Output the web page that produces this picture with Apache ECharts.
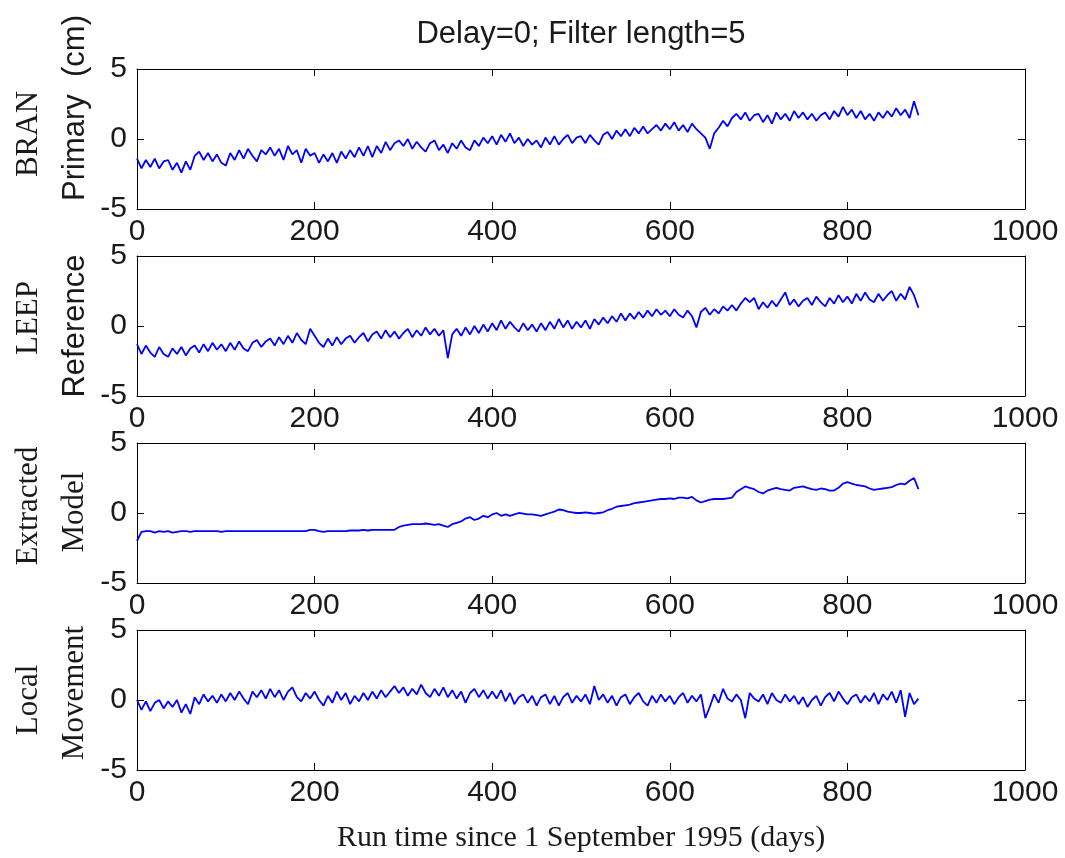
<!DOCTYPE html>
<html>
<head>
<meta charset="utf-8">
<script src="https://cdn.jsdelivr.net/npm/echarts@6/dist/echarts.min.js"></script>
<style>
html,body{margin:0;padding:0;background:#fff;}
#chart{width:1065px;height:858px;}
</style>
</head>
<body>
<div id="chart"></div>
<script>
// ---- data (days since 1 Sep 1995, displacement in cm) ----
const days = [
0,5,10,15,20,25,30,35,40,45,
50,55,60,65,70,75,80,85,90,95,
100,105,110,115,120,125,130,135,140,145,
150,155,160,165,170,175,180,185,190,195,
200,205,210,215,220,225,230,235,240,245,
250,255,260,265,270,275,280,285,290,295,
300,305,310,315,320,325,330,335,340,345,
350,355,360,365,370,375,380,385,390,395,
400,405,410,415,420,425,430,435,440,445,
450,455,460,465,470,475,480,485,490,495,
500,505,510,515,520,525,530,535,540,545,
550,555,560,565,570,575,580,585,590,595,
600,605,610,615,620,625,630,635,640,645,
650,655,660,665,670,675,680,685,690,695,
700,705,710,715,720,725,730,735,740,745,
750,755,760,765,770,775,780,785,790,795,
800,805,810,815,820,825,830,835,840,845,
850,855,860,865,870,875,880
];

const branPrimary = [
-1.4,-2.1,-1.5,-2.0,-1.4,-2.1,-1.6,-1.5,-2.2,-1.7,
-2.4,-1.6,-2.2,-1.2,-0.9,-1.5,-1.0,-1.6,-1.1,-1.7,
-1.9,-1.0,-1.5,-0.8,-1.4,-0.7,-1.2,-1.6,-0.8,-1.1,
-0.6,-1.2,-0.7,-1.5,-0.5,-1.1,-0.8,-1.7,-0.7,-1.2,
-1.0,-1.7,-1.1,-1.6,-1.0,-1.7,-0.9,-1.4,-0.8,-1.3,
-0.6,-1.2,-0.5,-1.3,-0.5,-1.0,-0.2,-0.8,-0.3,-0.1,
-0.5,0.0,-0.7,-0.2,-0.6,-0.9,-0.3,-0.1,-0.8,-0.4,
-1.0,-0.3,-0.7,-0.1,-0.6,-0.8,-0.1,-0.5,0.1,-0.3,
0.2,-0.4,0.3,-0.2,0.4,-0.3,0.1,-0.5,0.0,-0.4,
-0.1,-0.6,0.1,-0.4,0.2,-0.4,0.0,0.3,-0.3,0.1,
0.2,-0.3,0.3,-0.1,-0.4,0.3,0.5,0.0,0.6,0.2,
0.7,0.2,0.8,0.4,0.9,0.4,0.7,1.0,0.6,1.1,
0.7,1.2,0.6,1.0,0.5,1.1,0.7,0.4,0.1,-0.7,
0.4,0.8,1.3,0.9,1.5,1.8,1.4,1.9,1.3,1.7,
1.8,1.2,1.7,1.1,1.9,1.4,1.8,1.3,2.0,1.5,
1.9,1.4,1.8,1.3,1.7,1.9,1.4,2.0,1.6,2.3,
1.7,2.1,1.5,2.0,1.4,1.8,1.3,1.9,1.5,2.0,
1.6,2.2,1.7,2.1,1.5,2.7,1.7
];

const leepReference = [
-1.3,-2.0,-1.4,-1.9,-2.2,-1.5,-2.0,-2.2,-1.6,-2.0,
-1.5,-2.1,-1.6,-1.4,-1.9,-1.3,-1.8,-1.2,-1.7,-1.3,
-1.8,-1.2,-1.7,-1.1,-1.6,-1.8,-1.2,-1.0,-1.5,-1.1,
-0.9,-1.4,-0.8,-1.3,-0.7,-1.2,-0.5,-1.0,-1.3,-0.2,
-0.7,-1.2,-1.5,-0.9,-1.4,-0.8,-1.3,-0.9,-0.7,-1.2,
-0.8,-0.5,-1.1,-0.6,-0.4,-0.9,-0.3,-0.8,-0.4,-0.9,
-0.5,-0.2,-0.8,-0.3,-0.7,-0.1,-0.6,-0.2,-0.7,-0.3,
-2.3,-0.6,-0.2,-0.7,-0.1,-0.6,0.0,-0.5,0.1,-0.4,
0.2,-0.3,0.4,-0.2,0.3,-0.1,-0.4,0.2,-0.3,0.1,
-0.4,0.2,-0.3,0.3,-0.2,0.5,-0.1,0.4,-0.2,0.3,
-0.1,0.4,-0.2,0.5,0.1,0.6,0.2,0.7,0.3,0.9,
0.4,0.9,0.5,1.0,0.6,1.1,0.7,1.2,0.8,1.1,
0.7,1.2,0.8,0.6,1.1,0.7,-0.1,1.0,1.3,0.8,
1.2,0.9,1.4,1.1,1.5,1.1,1.6,2.0,1.7,2.0,
1.2,1.7,1.3,1.8,1.4,1.9,2.4,1.5,1.9,1.4,
1.8,2.0,1.5,2.1,1.7,1.4,2.0,1.6,2.2,1.7,
2.1,1.6,2.3,1.8,2.4,1.9,1.7,2.3,1.8,2.2,
2.5,1.8,2.3,1.9,2.8,2.2,1.3
];

const extractedModel = [
-2.0,-1.35,-1.3,-1.3,-1.4,-1.3,-1.35,-1.3,-1.4,-1.35,
-1.3,-1.3,-1.35,-1.3,-1.3,-1.3,-1.3,-1.3,-1.3,-1.35,
-1.3,-1.3,-1.3,-1.3,-1.3,-1.3,-1.3,-1.3,-1.3,-1.3,
-1.3,-1.3,-1.3,-1.3,-1.3,-1.3,-1.3,-1.3,-1.3,-1.2,
-1.2,-1.3,-1.35,-1.3,-1.3,-1.3,-1.3,-1.3,-1.25,-1.25,
-1.25,-1.2,-1.25,-1.2,-1.2,-1.2,-1.2,-1.2,-1.2,-1.0,
-0.9,-0.85,-0.8,-0.8,-0.8,-0.75,-0.8,-0.85,-0.8,-0.9,
-1.0,-0.8,-0.7,-0.6,-0.4,-0.3,-0.5,-0.4,-0.2,-0.3,
-0.1,0.0,-0.2,-0.1,-0.2,-0.1,0.0,-0.05,-0.1,-0.1,
-0.15,-0.2,-0.1,0.0,0.1,0.25,0.2,0.1,0.05,0.0,
0.0,0.05,0.0,-0.05,0.0,0.05,0.2,0.3,0.45,0.5,
0.55,0.6,0.7,0.75,0.8,0.85,0.9,0.95,1.0,1.0,
1.05,1.0,1.1,1.1,1.05,1.15,0.9,0.75,0.85,0.95,
1.0,1.0,1.0,1.05,1.1,1.5,1.7,1.9,1.8,1.7,
1.5,1.4,1.6,1.7,1.8,1.7,1.65,1.6,1.8,1.85,
1.9,1.8,1.7,1.65,1.75,1.7,1.6,1.6,1.8,2.1,
2.2,2.1,2.0,1.95,1.9,1.75,1.65,1.7,1.75,1.8,
1.85,2.0,2.1,2.05,2.3,2.5,1.7
];

const localMovement = [
0.0,-0.7,-0.1,-0.8,-0.2,0.0,-0.6,-0.1,-0.5,0.0,
-0.9,-0.3,-1.0,0.2,-0.3,0.4,-0.1,0.3,-0.2,0.4,
-0.1,0.5,0.0,0.6,0.1,-0.3,0.6,0.2,0.7,0.1,
0.8,0.2,0.7,0.0,0.6,0.9,0.2,-0.1,0.5,0.1,
0.6,0.0,-0.4,0.3,-0.2,0.6,0.0,0.5,-0.3,0.3,
-0.1,0.5,0.0,0.6,0.1,0.7,0.2,0.6,1.0,0.5,
0.9,0.3,0.8,0.4,1.1,0.5,0.2,0.8,0.3,0.9,
0.2,0.7,0.1,0.6,-0.2,0.5,0.8,0.2,0.7,0.1,
0.6,0.1,0.7,-0.1,0.5,-0.3,0.2,0.4,-0.2,0.3,
-0.4,0.2,0.4,-0.3,0.3,-0.4,0.2,0.5,-0.2,0.3,
-0.1,0.4,-0.3,1.0,0.0,0.4,-0.2,0.3,-0.4,0.2,
0.4,-0.3,0.2,0.5,-0.1,-0.4,0.3,-0.2,0.4,-0.1,
0.3,-0.3,0.2,0.5,-0.2,0.3,-0.1,0.4,-1.3,-0.5,
0.4,-0.2,0.8,0.1,-0.1,0.4,0.0,-1.3,0.5,0.1,
-0.1,0.4,-0.3,0.5,0.0,-0.2,0.4,-0.1,0.3,-0.3,
0.2,-0.5,0.0,0.3,-0.4,0.2,0.5,-0.1,0.6,0.1,
-0.3,0.2,0.4,-0.2,0.3,-0.1,0.5,-0.3,0.4,0.0,
0.6,-0.2,0.7,-1.2,0.5,-0.3,0.1
];

const seriesList = [branPrimary, leepReference, extractedModel, localMovement];
const panelLabels = [["BRAN", "Primary  (cm)"], ["LEEP", "Reference"], ["Extracted", "Model"], ["Local", "Movement"]];
const titleText = "Delay=0; Filter length=5";
const xAxisTitle = "Run time since 1 September 1995 (days)";
const xRange = {min: 0, max: 1000, interval: 200};
const yRange = {min: -5, max: 5, interval: 5};

// ---- layout / style ----
const SANS = "'Liberation Sans', Arial, sans-serif";
const SERIF = "'Liberation Serif', 'Times New Roman', serif";
const TXT = '#1a1a1a';
const tops = [69, 256, 443, 630];
const H = 140;
const gridLeft = 137, gridRight = 40;
const labelLayout = [
  {y1: 134, y2: 108, f2: SANS},
  {y1: 318, y2: 326, f2: SANS},
  {y1: 506, y2: 512, f2: SERIF},
  {y1: 700, y2: 693, f2: SERIF}
];

const axisLine = {show: true, onZero: false, lineStyle: {color: '#000', width: 1}};
const axisTick = {show: true, inside: true, length: 7, lineStyle: {color: '#000', width: 1}};
const plain = v => String(v);

const grid = [], xAxis = [], yAxis = [], series = [], graphic = [];
tops.forEach((t, i) => {
  grid.push({left: gridLeft, right: gridRight, top: t, height: H, show: false});
  xAxis.push({gridIndex: i, type: 'value', position: 'bottom', min: xRange.min, max: xRange.max, interval: xRange.interval,
    axisLine, axisTick, splitLine: {show: false},
    axisLabel: {fontSize: 30, fontFamily: SANS, color: TXT, margin: 8, formatter: plain}});
  xAxis.push({gridIndex: i, type: 'value', position: 'top', min: xRange.min, max: xRange.max, interval: xRange.interval,
    axisLine, axisTick, splitLine: {show: false}, axisLabel: {show: false}});
  yAxis.push({gridIndex: i, type: 'value', position: 'left', min: yRange.min, max: yRange.max, interval: yRange.interval,
    axisLine, axisTick, splitLine: {show: false},
    axisLabel: {fontSize: 30, fontFamily: SANS, color: TXT, margin: 10, formatter: plain}});
  yAxis.push({gridIndex: i, type: 'value', position: 'right', min: yRange.min, max: yRange.max, interval: yRange.interval,
    axisLine, axisTick, splitLine: {show: false}, axisLabel: {show: false}});
  series.push({type: 'line', xAxisIndex: 2 * i, yAxisIndex: 2 * i,
    data: days.map((d, k) => [d, seriesList[i][k]]),
    showSymbol: false, symbol: 'none', silent: true,
    lineStyle: {color: '#0000ff', width: 1.8}});
  const L = labelLayout[i];
  graphic.push({type: 'text', x: 29, y: L.y1, rotation: Math.PI / 2,
    style: {text: panelLabels[i][0], font: '31px ' + SERIF, fill: TXT, textAlign: 'center', textVerticalAlign: 'middle'}});
  graphic.push({type: 'text', x: 75, y: L.y2, rotation: Math.PI / 2,
    style: {text: panelLabels[i][1], font: '31px ' + L.f2, fill: TXT, textAlign: 'center', textVerticalAlign: 'middle'}});
});
graphic.push({type: 'text', x: 581, y: 34,
  style: {text: titleText, font: '31px ' + SANS, fill: TXT, textAlign: 'center', textVerticalAlign: 'middle'}});
graphic.push({type: 'text', x: 581, y: 838,
  style: {text: xAxisTitle, font: '30px ' + SERIF, fill: TXT, textAlign: 'center', textVerticalAlign: 'middle'}});

const chart = echarts.init(document.getElementById('chart'), null, {renderer: 'canvas'});
chart.setOption({
  animation: false,
  backgroundColor: '#fff',
  grid, xAxis, yAxis, series, graphic
});
</script>
</body>
</html>
